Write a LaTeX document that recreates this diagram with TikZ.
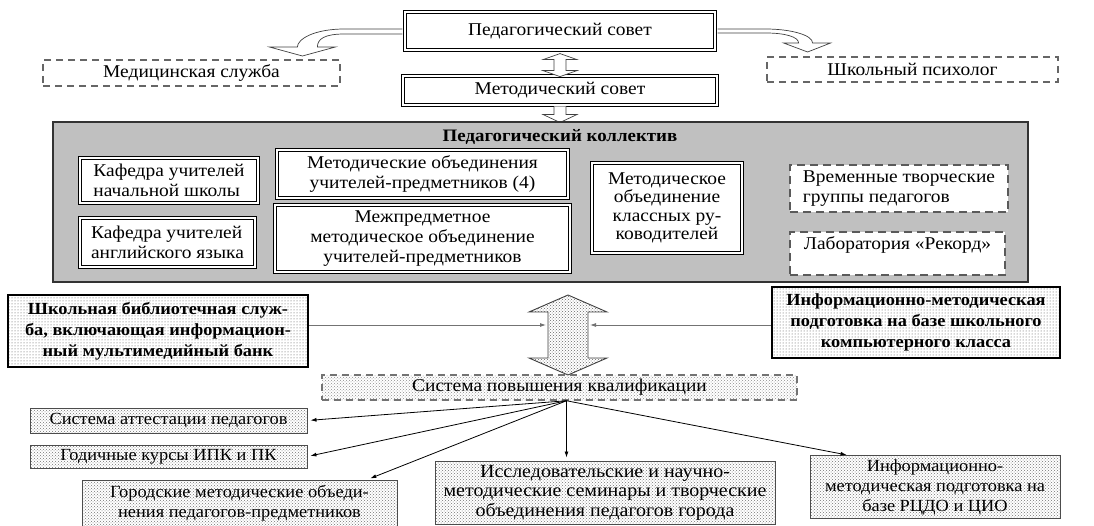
\documentclass[tikz,border=0pt]{standalone}
\usepackage{fontspec}
\setmainfont{Liberation Serif}[FakeStretch=1.08]
\usetikzlibrary{arrows.meta, patterns}
\definecolor{kollgray}{RGB}{192, 192, 192}
\definecolor{framegray}{RGB}{90, 90, 90}

\begin{document}
\begin{tikzpicture}[x=1pt, y=-1pt,
        font=\fontsize{18}{20}\selectfont,
        council/.style={draw=black, line width=1.2pt, double=white, double distance=1.4pt, fill=white, inner sep=2pt},
        unit/.style={draw=black, line width=1pt, double=white, double distance=1.2pt, fill=white, inner sep=2pt},
        tempgroup/.style={draw=framegray, dash pattern=on 8pt off 5pt, line width=1.6pt, fill=white},
        service/.style={draw=black!60, dash pattern=on 7pt off 5pt, line width=1.2pt},
        dotbox/.style={draw=black!70, line width=1pt, pattern=crosshatch dots, pattern color=black!55, font=\fontsize{17}{20}\selectfont},
        boldbox/.style={draw=black, line width=2.2pt, pattern=dots, pattern color=black!70, font=\fontsize{17}{21}\selectfont\bfseries},
        hollow/.style={draw=black!75, fill=white, line width=0.7pt},
        feed/.style={draw=black!55, line width=0.8pt, -{Latex[length=6pt, width=4pt]}, shorten >=2pt},
        spread/.style={draw=black, line width=0.8pt, -{Latex[length=6pt, width=4pt]}, shorten >=3pt}
    ]
        \useasboundingbox (0, 0) rectangle (1094, 526);

        % councils and services
        \node[council, minimum width=310pt, minimum height=38pt] (ped) at (560, 31) {Педагогический совет};
        \node[unit, minimum width=314pt, minimum height=29pt] (met) at (560, 90.5) {Методический совет};
        \node[service, minimum width=297pt, minimum height=26pt] (med) at (191.5, 73) {Медицинская служба};
        \node[service, minimum width=291pt, minimum height=25pt] (psy) at (912.5, 69.5) {Школьный психолог};

        \draw[hollow] (ped.south) ++(0,3) -- ++(17,6) -- ++(-11,0) -- ++(0,11) -- ++(11,0) -- ++(-17,6)
            -- ++(-17,-6) -- ++(11,0) -- ++(0,-11) -- ++(-11,0) -- cycle;
        \draw[hollow] (met.south) ++(-6,1) -- ++(0,8) -- ++(-11,0) -- ++(17,8) -- ++(17,-8) -- ++(-11,0) -- ++(0,-8);
        \draw[hollow] (ped.west) ++(-2,-2) -- ++(-58,0) .. controls +(-30,0) and +(0,-8) .. ++(-47,18)
            -- ++(-28,0) -- ++(33,9) -- ++(33,-9) -- ++(-18,0) .. controls +(0,-8) and +(-20,0) .. ++(27,-13) -- ++(58,0);
        \draw[hollow] (ped.east) ++(2,-2) -- ++(48,0) .. controls +(25,0) and +(0,-8) .. ++(47,14)
            -- ++(18,0) -- ++(-23,9) -- ++(-24,-9) -- ++(15,0) .. controls +(0,-6) and +(20,0) .. ++(-33,-10) -- ++(-48,0);

        % teaching staff
        \node[draw=black!80, line width=1.5pt, fill=kollgray, minimum width=975pt, minimum height=160pt] (koll) at (540.5, 202) {};
        \node[font=\fontsize{17.5}{20}\selectfont\bfseries] (kolltitle) at (560, 137) {Педагогический коллектив};

        \node[unit, minimum width=178pt, minimum height=45pt, align=left] (kaf1) at (169, 180.5) {Кафедра учителей\\начальной школы};
        \node[unit, minimum width=175pt, minimum height=49pt, align=left] (kaf2) at (167.5, 242.5) {Кафедра учителей\\английского языка};
        \node[unit, minimum width=291pt, minimum height=48pt, align=center] (mo4) at (422.5, 174) {Методические объединения\\учителей-предметников (4)};
        \node[unit, minimum width=295pt, minimum height=67pt, align=center] (mezh) at (422.5, 238.5) {Межпредметное\\методическое объединение\\учителей-предметников};
        \node[unit, minimum width=150pt, minimum height=90pt, align=center, font=\fontsize{18}{18.5}\selectfont] (mok) at (667, 208) {Методическое\\объединение\\классных ру-\\ководителей};
        \node[tempgroup, minimum width=218pt, minimum height=47pt, align=left] (vrem) at (899, 188.5) {Временные творческие\\группы  педагогов};
        \node[tempgroup, minimum width=215pt, minimum height=43pt, align=left] (lab) at (897.5, 253.5) {Лаборатория «Рекорд»\\\mbox{}};

        % information support
        \node[boldbox, minimum width=300pt, minimum height=72pt, align=center] (bib) at (158, 331) {Школьная библиотечная служ-\\ба, включающая информацион-\\ный мультимедийный банк};
        \node[boldbox, minimum width=288pt, minimum height=71pt, align=center] (inf1) at (916, 322.5) {Информационно-методическая\\подготовка на базе  школьного\\компьютерного класса};

        \coordinate (bigtip) at (568, 295);
        \coordinate (bigleft) at (548, 325);
        \coordinate (bigright) at (588, 325);
        \draw[draw=black!75, line width=0.9pt, pattern=crosshatch dots, pattern color=black!60] (bigtip) -- ++(39,17) -- ++(-19,0) -- ++(0,46) -- ++(19,0)
            -- ++(-39,17) -- ++(-39,-17) -- ++(19,0) -- ++(0,-46) -- ++(-19,0) -- cycle;
        \draw[feed] (bib.east |- bigleft) -- (bigleft);
        \draw[feed] (inf1.west |- bigright) -- (bigright);

        % qualification
        \node[service, draw=black!55, line width=1.5pt, pattern=crosshatch dots, pattern color=black!45, minimum width=475pt, minimum height=25pt] (sys) at (559.5, 387.5) {Система повышения квалификации};

        \node[dotbox, minimum width=277pt, minimum height=25pt] (att) at (168.5, 420.5) {Система аттестации педагогов};
        \node[dotbox, minimum width=277pt, minimum height=23pt] (god) at (168.5, 456.5) {Годичные курсы ИПК и ПК};
        \node[dotbox, minimum width=315pt, minimum height=46pt, align=center] (gor) at (239.5, 503) {Городские методические  объеди-\\нения педагогов-предметников};
        \node[dotbox, minimum width=340pt, minimum height=63pt, align=center, font=\fontsize{18.5}{19.5}\selectfont] (iss) at (605, 492.5) {Исследовательские и  научно-\\методические семинары и творческие\\объединения педагогов города};
        \node[dotbox, minimum width=250pt, minimum height=60pt, align=center] (inf2) at (935, 487) {Информационно-\\методическая подготовка на\\базе РЦДО и ЦИО};

        \coordinate (src) at ([xshift=7pt]sys.south);
        \draw[spread] (src) -- (att.east);
        \draw[spread] (src) -- (god.east);
        \draw[spread] (src) -- ([xshift=-30pt]gor.north east);
        \draw[spread] (src) -- (src |- iss.north);
        \draw[spread] (src) -- ([xshift=40pt]inf2.north west);
    \end{tikzpicture}
\end{document}
